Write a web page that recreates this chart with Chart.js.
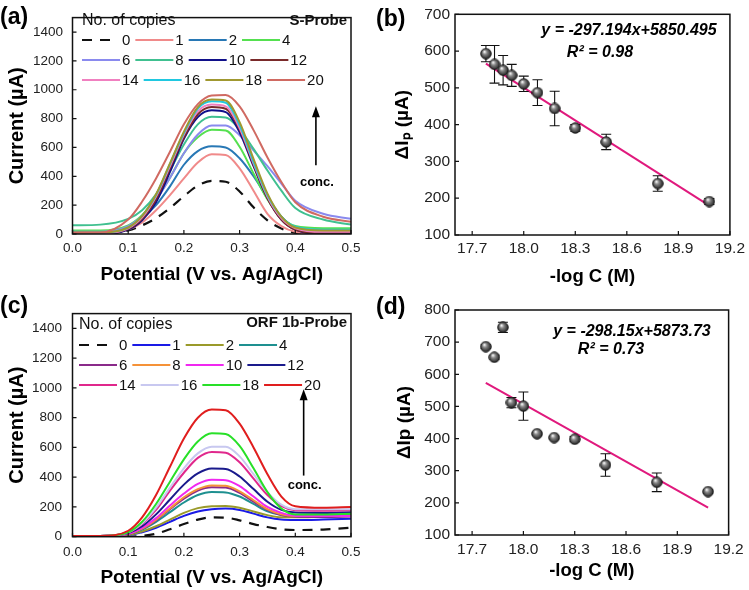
<!DOCTYPE html>
<html>
<head>
<meta charset="utf-8">
<script src="https://cdn.jsdelivr.net/npm/chart.js@4.4.1/dist/chart.umd.min.js"></script>
<style>
  html, body { margin: 0; padding: 0; background: #fff; }
  #wrap { position: relative; width: 749px; height: 590px; }
  .panel { position: absolute; }
</style>
</head>
<body>
<div id="wrap">
  <div class="panel" style="left:0;top:0"><canvas id="chartA" width="375" height="295"></canvas></div>
  <div class="panel" style="left:375px;top:0"><canvas id="chartB" width="374" height="295"></canvas></div>
  <div class="panel" style="left:0;top:295px"><canvas id="chartC" width="375" height="295"></canvas></div>
  <div class="panel" style="left:375px;top:295px"><canvas id="chartD" width="374" height="295"></canvas></div>
</div>
<script>
const FONT = "'Liberation Sans', Arial, sans-serif";

// --- data ---
const potential = [0, 0.05, 0.1, 0.125, 0.15, 0.175, 0.2, 0.225, 0.25, 0.275, 0.3, 0.325, 0.35, 0.375, 0.4, 0.45, 0.5];
const potentialTicks = [0, 0.1, 0.2, 0.3, 0.4, 0.5];
const currentTicks = [0, 200, 400, 600, 800, 1000, 1200, 1400];
const copyLabels = ['0', '1', '2', '4', '6', '8', '10', '12', '14', '16', '18', '20'];

// S-Probe DPV curves (µA)
const sProbe0  = [0, 0, 25, 60, 110, 180, 262, 335, 368, 362, 295, 185, 95, 38, 8, 0, 0];
const sProbe1  = [0, 0, 30, 80, 165, 270, 385, 495, 552, 548, 455, 300, 140, 55, 15, 0, 0];
const sProbe2  = [10, 10, 45, 110, 200, 330, 480, 575, 608, 600, 525, 400, 250, 120, 45, 10, 5];
const sProbe4  = [25, 25, 60, 130, 240, 390, 560, 670, 722, 718, 605, 420, 240, 115, 55, 40, 40];
const sProbe6  = [15, 15, 55, 125, 235, 390, 560, 690, 752, 752, 685, 580, 470, 350, 230, 140, 105];
const sProbe8  = [60, 65, 105, 165, 275, 440, 620, 760, 812, 808, 725, 590, 440, 300, 180, 100, 65];
const sProbe10 = [5, 0, 30, 95, 220, 430, 660, 810, 857, 845, 705, 470, 250, 100, 30, 0, 0];
const sProbe12 = [10, 5, 35, 105, 240, 455, 670, 830, 880, 868, 725, 480, 250, 100, 30, 5, 10];
const sProbe14 = [10, 5, 40, 115, 260, 470, 690, 850, 897, 885, 735, 490, 260, 110, 40, 15, 15];
const sProbe16 = [15, 10, 45, 125, 270, 485, 700, 870, 920, 910, 755, 500, 270, 120, 50, 30, 30];
const sProbe18 = [10, 10, 45, 125, 275, 490, 710, 880, 932, 925, 775, 520, 280, 120, 45, 25, 25];
const sProbe20 = [10, 10, 100, 225, 385, 570, 760, 900, 960, 964, 885, 720, 530, 360, 220, 120, 85];
const sProbeColors = ['#111111', '#F08A8A', '#2878B5', '#55E050', '#8A8AEE', '#40C090',
                      '#10108A', '#7A2A2A', '#F080C0', '#20C8E0', '#A09830', '#D06A62'];

// ORF 1b-Probe DPV curves (µA)
const orf0  = [0, 0, 0, 5, 20, 50, 85, 115, 130, 128, 110, 85, 65, 50, 45, 48, 60];
const orf1  = [5, 5, 10, 30, 60, 100, 140, 170, 185, 189, 180, 155, 130, 115, 112, 115, 120];
const orf2  = [5, 5, 12, 35, 70, 115, 160, 192, 205, 207, 195, 170, 145, 130, 130, 135, 140];
const orf4  = [5, 5, 18, 48, 100, 165, 230, 280, 300, 298, 270, 220, 170, 145, 140, 145, 150];
const orf6  = [5, 5, 18, 52, 110, 185, 255, 310, 332, 330, 295, 235, 180, 145, 135, 133, 135];
const orf8  = [5, 5, 20, 55, 115, 190, 265, 320, 345, 342, 305, 245, 185, 150, 140, 140, 145];
const orf10 = [5, 5, 20, 60, 125, 210, 290, 355, 383, 380, 340, 270, 200, 160, 140, 140, 140];
const orf12 = [5, 5, 25, 70, 150, 250, 350, 425, 458, 455, 405, 320, 235, 180, 162, 160, 165];
const orf14 = [5, 5, 28, 85, 180, 310, 430, 530, 570, 565, 500, 390, 280, 205, 178, 175, 178];
const orf16 = [5, 5, 30, 90, 195, 330, 460, 560, 605, 605, 540, 420, 300, 215, 185, 185, 185];
const orf18 = [5, 5, 30, 100, 220, 370, 520, 640, 695, 690, 610, 460, 300, 190, 150, 150, 155];
const orf20 = [5, 5, 40, 130, 280, 470, 660, 800, 855, 850, 760, 600, 420, 270, 205, 195, 200];
const orfColors = ['#111111', '#1A1AE6', '#9A9A2A', '#1E9090', '#8A2A8A', '#F59238',
                   '#F028F0', '#1A1A8C', '#E0288C', '#C8C8F0', '#28E028', '#E01E1E'];

// calibration plots
const logC = [17.78, 17.83, 17.88, 17.93, 18.00, 18.08, 18.18, 18.30, 18.48, 18.78, 19.08];
const logCTicks = [17.7, 18.0, 18.3, 18.6, 18.9, 19.2];
const dIpS = [593, 564, 548, 534, 511, 487, 444, 391, 353, 240, 191];
const errS = [22, 51, 40, 30, 21, 35, 47, 9, 21, 21, 8];
const dIpORF = [686, 653, 746, 512, 501, 415, 403, 398, 318, 264, 235];
const errORF = [6, 6, 16, 16, 44, 4, 4, 8, 35, 29, 5];
const fitLogC = [17.78, 19.08];
const fitS = [566, 180];
const fitORF = [573, 185];
const dIpTicksS = [100, 200, 300, 400, 500, 600, 700];
const dIpTicksORF = [100, 200, 300, 400, 500, 600, 700, 800];
const FIT_COLOR = '#E0197D';

// sphere marker
const sphere = document.createElement('canvas');
sphere.width = 12; sphere.height = 12;
(() => {
  const g = sphere.getContext('2d');
  const grad = g.createRadialGradient(4.5, 4, 0.5, 6, 6, 6);
  grad.addColorStop(0, '#f0f0f0');
  grad.addColorStop(0.3, '#8a8a8a');
  grad.addColorStop(0.8, '#333');
  grad.addColorStop(1, '#111');
  g.fillStyle = grad;
  g.beginPath(); g.arc(6, 6, 5.3, 0, Math.PI * 2); g.fill();
  g.strokeStyle = '#111'; g.lineWidth = 0.8; g.stroke();
})();

// frame box + inward ticks
const framePlugin = {
  id: 'frame',
  afterDraw(chart) {
    const {ctx, chartArea: a, scales: {x, y}} = chart;
    ctx.save();
    ctx.strokeStyle = '#111';
    ctx.lineWidth = 1.5;
    ctx.strokeRect(a.left, a.top, a.right - a.left, a.bottom - a.top);
    ctx.lineWidth = 1.2;
    ctx.beginPath();
    x.ticks.forEach(t => {
      const px = x.getPixelForValue(t.value);
      ctx.moveTo(px, a.bottom); ctx.lineTo(px, a.bottom - 4);
    });
    y.ticks.forEach(t => {
      const py = y.getPixelForValue(t.value);
      ctx.moveTo(a.left, py); ctx.lineTo(a.left + 4, py);
    });
    ctx.stroke();
    ctx.restore();
  }
};

// panel letter + free texts
const textPlugin = {
  id: 'texts',
  afterDraw(chart, args, o) {
    const ctx = chart.ctx;
    ctx.save();
    ctx.fillStyle = '#000';
    ctx.textBaseline = 'middle';
    (o.items || []).forEach(t => {
      ctx.font = t.font;
      ctx.textAlign = t.align || 'left';
      ctx.fillText(t.text, t.x, t.y);
    });
    ctx.restore();
  }
};

// legend drawn inside the plot area
const legendPlugin = {
  id: 'copyLegend',
  afterDatasetsDraw(chart, args, o) {
    if (!o.rows) return;
    const ctx = chart.ctx;
    ctx.save();
    ctx.textBaseline = 'middle';
    ctx.textAlign = 'left';
    ctx.fillStyle = '#111';
    ctx.font = `16px ${FONT}`;
    ctx.fillText(o.heading, o.x, o.headingY);
    ctx.font = `bold 15px ${FONT}`;
    ctx.textAlign = 'right';
    ctx.fillText(o.probe, o.probeX, o.probeY);
    ctx.textAlign = 'left';
    ctx.font = `15px ${FONT}`;
    o.rows.forEach((row, r) => {
      let x = o.x;
      const y = o.rowY[r];
      row.forEach(i => {
        const ds = chart.data.datasets[i];
        const dashed = ds.borderDash && ds.borderDash.length;
        ctx.strokeStyle = ds.borderColor;
        ctx.lineWidth = 2.2;
        ctx.setLineDash(dashed ? ds.borderDash : []);
        ctx.beginPath(); ctx.moveTo(x, y); ctx.lineTo(x + (dashed ? 29 : 38), y); ctx.stroke();
        ctx.setLineDash([]);
        ctx.fillText(ds.label, x + 40, y + 1);
        x += 40 + ctx.measureText(ds.label).width + 5;
      });
    });
    ctx.restore();
  }
};

// arrow + "conc." in data coordinates
const arrowPlugin = {
  id: 'concArrow',
  afterDatasetsDraw(chart, args, o) {
    if (o.x == null) return;
    const {ctx, scales: {x, y}} = chart;
    const px = x.getPixelForValue(o.x);
    const p0 = y.getPixelForValue(o.from);
    const p1 = y.getPixelForValue(o.to);
    ctx.save();
    ctx.strokeStyle = '#000'; ctx.fillStyle = '#000'; ctx.lineWidth = 1.6;
    ctx.beginPath(); ctx.moveTo(px, p0); ctx.lineTo(px, p1 + 8); ctx.stroke();
    ctx.beginPath(); ctx.moveTo(px, p1); ctx.lineTo(px - 4, p1 + 11); ctx.lineTo(px + 4, p1 + 11); ctx.closePath(); ctx.fill();
    ctx.font = `bold 13px ${FONT}`; ctx.textAlign = 'center'; ctx.textBaseline = 'middle';
    ctx.fillText('conc.', px + 1, y.getPixelForValue(o.textAt));
    ctx.restore();
  }
};

// vertical error bars, drawn just before the points
const errorPlugin = {
  id: 'errorBars',
  beforeDatasetDraw(chart, args) {
    const ds = chart.data.datasets[args.index];
    if (!ds.errors) return;
    const {ctx, scales: {x, y}} = chart;
    ctx.save();
    ctx.strokeStyle = '#111'; ctx.lineWidth = 1.1;
    ctx.beginPath();
    ds.data.forEach((p, i) => {
      const px = x.getPixelForValue(p.x);
      const top = y.getPixelForValue(p.y + ds.errors[i]);
      const bot = y.getPixelForValue(p.y - ds.errors[i]);
      ctx.moveTo(px, top); ctx.lineTo(px, bot);
      ctx.moveTo(px - 5, top); ctx.lineTo(px + 5, top);
      ctx.moveTo(px - 5, bot); ctx.lineTo(px + 5, bot);
    });
    ctx.stroke();
    ctx.restore();
  }
};

function scaleX(cfg) {
  return {
    type: 'linear', min: cfg.min, max: cfg.max,
    afterBuildTicks: s => { s.ticks = cfg.ticks.map(v => ({value: v})); },
    afterFit: s => { s.height = cfg.height; },
    grid: {display: false, drawTicks: false},
    border: {display: false},
    ticks: {color: '#222', padding: cfg.tickPad, font: {family: FONT, size: cfg.tickSize},
            maxRotation: 0, callback: v => Number(v).toFixed(1)},
    title: {display: true, text: cfg.title, color: '#000',
            font: {family: FONT, size: cfg.titleSize, weight: 'bold'},
            padding: {top: 0, bottom: cfg.titlePad}}
  };
}

function scaleY(cfg) {
  return {
    type: 'linear', min: cfg.min, max: cfg.max,
    afterBuildTicks: s => { s.ticks = cfg.ticks.map(v => ({value: v})); },
    afterFit: s => { s.width = cfg.width; },
    grid: {display: false, drawTicks: false},
    border: {display: false},
    ticks: {color: '#222', padding: cfg.tickPad, font: {family: FONT, size: cfg.tickSize},
            callback: v => String(v)},
    title: {display: true, text: cfg.title, color: '#000',
            font: {family: FONT, size: cfg.titleSize, weight: 'bold'},
            padding: {top: cfg.titlePad, bottom: 0}}
  };
}

const common = {
  responsive: false,
  animation: false,
  events: [],
  plugins: {legend: {display: false}, tooltip: {enabled: false}}
};

function curveChart(id, series, colors, geo) {
  const n = series.length;
  return new Chart(document.getElementById(id), {
    type: 'line',
    data: {
      datasets: series.map((vals, i) => ({
        label: copyLabels[i],
        data: vals.map((v, j) => ({x: potential[j], y: v})),
        borderColor: colors[i],
        borderWidth: i === 0 ? 2.2 : 2,
        borderDash: i === 0 ? [10, 8] : [],
        pointRadius: 0,
        cubicInterpolationMode: 'monotone',
        fill: false,
        order: n - i
      }))
    },
    options: {
      ...common,
      layout: {padding: {left: 0, top: geo.top, right: geo.right, bottom: 0}},
      scales: {
        x: scaleX({min: 0, max: 0.5, ticks: potentialTicks, height: geo.xh, tickPad: geo.xPad,
                   tickSize: 13.5, title: 'Potential (V vs. Ag/AgCl)', titleSize: 19, titlePad: geo.xTitlePad}),
        y: scaleY({min: 0, max: 1500, ticks: currentTicks, width: 72.5, tickPad: geo.yPad,
                   tickSize: 13.5, title: 'Current (\u00B5A)', titleSize: 20, titlePad: 5})
      },
      plugins: {
        ...common.plugins,
        copyLegend: geo.legend,
        concArrow: geo.arrow,
        texts: {items: [{text: geo.letter, x: 0, y: geo.letterY, font: `bold 23px ${FONT}`}]}
      }
    },
    plugins: [framePlugin, legendPlugin, arrowPlugin, textPlugin]
  });
}

function calibChart(id, values, errors, fit, geo) {
  return new Chart(document.getElementById(id), {
    type: 'scatter',
    data: {
      datasets: [
        {type: 'line', data: fitLogC.map((x, i) => ({x, y: fit[i]})), borderColor: FIT_COLOR,
         borderWidth: 2, pointRadius: 0, fill: false, order: 2},
        {data: logC.map((x, i) => ({x, y: values[i]})), errors: errors,
         pointStyle: sphere, pointRadius: 6, order: 1}
      ]
    },
    options: {
      ...common,
      layout: {padding: {left: 0, top: geo.top, right: 16, bottom: 0}},
      scales: {
        x: scaleX({min: 17.6, max: 19.2, ticks: logCTicks, height: geo.xh, tickPad: geo.xPad,
                   tickSize: 15.5, title: '-log C (M)', titleSize: 18.5, titlePad: geo.xTitlePad}),
        y: scaleY({min: 100, max: geo.ymax, ticks: geo.yticks, width: 80, tickPad: 5,
                   tickSize: 15.5, title: geo.ytitle, titleSize: 19, titlePad: geo.yTitlePad})
      },
      plugins: {
        ...common.plugins,
        texts: {items: [
          {text: geo.letter, x: 1, y: geo.letterY, font: `bold 23px ${FONT}`},
          {text: geo.eq, x: geo.eqX, y: geo.eqY, align: 'center', font: `italic bold 16px ${FONT}`},
          {text: geo.r2, x: geo.r2X, y: geo.r2Y, align: 'center', font: `italic bold 16px ${FONT}`}
        ]}
      }
    },
    plugins: [framePlugin, errorPlugin, textPlugin]
  });
}

const legendRows = [[0, 1, 2, 3], [4, 5, 6, 7], [8, 9, 10, 11]];

curveChart('chartA',
  [sProbe0, sProbe1, sProbe2, sProbe4, sProbe6, sProbe8, sProbe10, sProbe12, sProbe14, sProbe16, sProbe18, sProbe20],
  sProbeColors,
  {top: 10.5, right: 24, xh: 61, xPad: 6.3, yPad: 9.5, xTitlePad: 8.6, letter: '(a)', letterY: 18,
   legend: {heading: 'No. of copies', probe: 'S-Probe', x: 82, headingY: 21, probeX: 347, probeY: 21,
            rows: legendRows, rowY: [40, 60, 80]},
   arrow: {x: 0.437, from: 476, to: 886, textAt: 356}});

curveChart('chartC',
  [orf0, orf1, orf2, orf4, orf6, orf8, orf10, orf12, orf14, orf16, orf18, orf20],
  orfColors,
  {top: 16.7, right: 24, xh: 53.3, xPad: 7.6, yPad: 10.5, xTitlePad: 0.6, letter: '(c)', letterY: 12,
   legend: {heading: 'No. of copies', probe: 'ORF 1b-Probe', x: 79, headingY: 30, probeX: 347, probeY: 28,
            rows: legendRows, rowY: [50, 70, 90]},
   arrow: {x: 0.415, from: 411, to: 991, textAt: 345}});

calibChart('chartB', dIpS, errS, fitS,
  {top: 10, xh: 60, xPad: 4, xTitlePad: 7.2, ymax: 700, yticks: dIpTicksS,
   ytitle: '\u0394I\u209A (\u00B5A)', yTitlePad: 16.6, letter: '(b)', letterY: 20,
   eq: 'y = -297.194x+5850.495', eqX: 254, eqY: 31, r2: 'R\u00B2 = 0.98', r2X: 225, r2Y: 53});

calibChart('chartD', dIpORF, errORF, fitORF,
  {top: 15, xh: 55, xPad: 5.3, xTitlePad: 7.9, ymax: 800, yticks: dIpTicksORF,
   ytitle: '\u0394Ip (\u00B5A)', yTitlePad: 18.6, letter: '(d)', letterY: 13,
   eq: 'y = -298.15x+5873.73', eqX: 257, eqY: 37, r2: 'R\u00B2 = 0.73', r2X: 236, r2Y: 55});
</script>
</body>
</html>
